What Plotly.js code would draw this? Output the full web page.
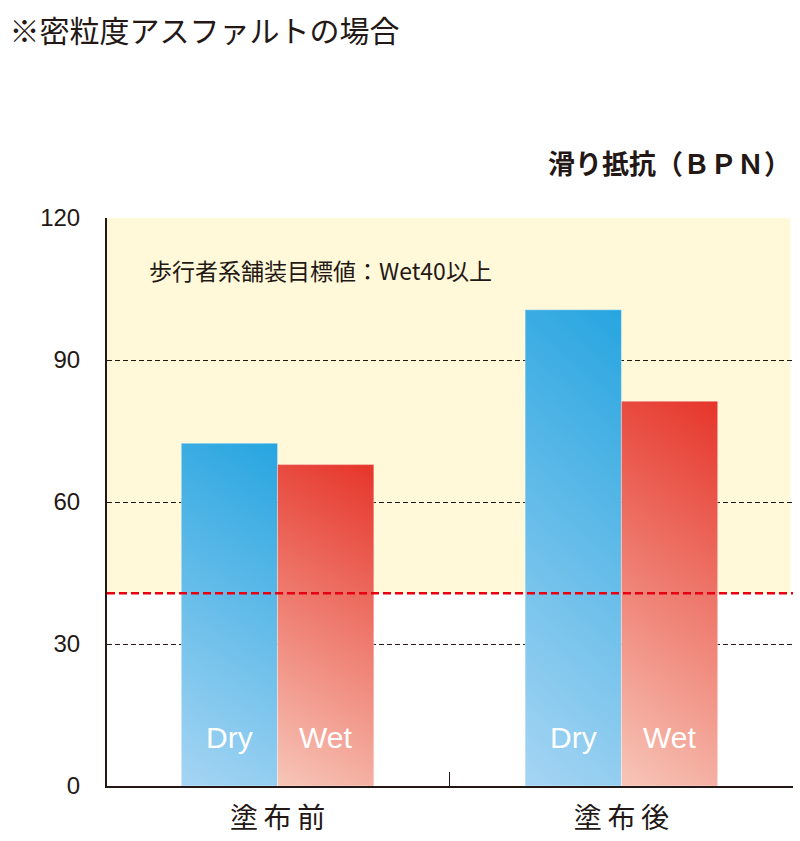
<!DOCTYPE html>
<html>
<head>
<meta charset="utf-8">
<script src="https://cdn.plot.ly/plotly-3.0.1.min.js"></script>
<style>
  html, body { margin: 0; padding: 0; background: #fff; }
  #chart { width: 800px; height: 841px; }
</style>
</head>
<body>
<div id="chart"></div>
<script>
// values
var categories = ['塗布前', '塗布後'];
var seriesNames = ['Dry', 'Wet'];
var dryValues = [72.4, 100.6];
var wetValues = [67.9, 81.3];
var targetWet = 40.7;
var yTicks = [0, 30, 60, 90, 120];

var ink = '#231815';
var jp = '"Noto Sans CJK JP", "Noto Sans", sans-serif';
var latin = '"Liberation Sans", Arial, "Noto Sans CJK JP", sans-serif';

// spread out the category labels a bit like the original lettering
var catText = categories.map(function (c) { return c.split('').join('\u2009'); });

var dry = {
    type: 'bar',
    name: seriesNames[0],
    x: categories,
    y: dryValues,
    width: 0.28,
    marker: { color: '#5bb4e6', line: { width: 1, color: 'rgba(255,255,255,0.35)' } },
    hoverinfo: 'none'
};
var wet = {
    type: 'bar',
    name: seriesNames[1],
    x: categories,
    y: wetValues,
    width: 0.28,
    marker: { color: '#ee7a66', line: { width: 1, color: 'rgba(255,255,255,0.35)' } },
    hoverinfo: 'none'
};

// Dry / Wet labels near the foot of every bar
var barLabels = [];
categories.forEach(function (c) {
    seriesNames.forEach(function (s, i) {
        barLabels.push({
            x: c, xref: 'x', y: 10.3, yref: 'y',
            xshift: i === 0 ? -48 : 48,
            text: s, showarrow: false,
            font: { family: latin, size: 30, color: '#ffffff' }
        });
    });
});

var layout = {
    width: 800,
    height: 841,
    margin: { l: 107, r: 7, t: 218, b: 55 },
    paper_bgcolor: '#ffffff',
    plot_bgcolor: '#ffffff',
    showlegend: false,
    barmode: 'group',
    bargap: 0.44,
    bargroupgap: 0,
    title: {
        text: '※密粒度アスファルトの場合',
        x: 0.012, xanchor: 'left',
        y: 0.975, yanchor: 'top',
        font: { family: jp, size: 30, color: ink }
    },
    xaxis: {
        type: 'category',
        range: [-0.496, 1.499],
        tickvals: categories,
        ticktext: catText,
        tickson: 'boundaries',
        ticks: 'inside',
        ticklen: 14,
        tickwidth: 1.5,
        tickcolor: ink,
        showline: true,
        linecolor: ink,
        linewidth: 2,
        showgrid: false,
        zeroline: false,
        ticklabelstandoff: 6,
        tickfont: { family: jp, size: 28, color: ink }
    },
    yaxis: {
        range: [0, 120],
        tickvals: yTicks,
        ticks: '',
        ticklabelstandoff: 20,
        showline: true,
        linecolor: ink,
        linewidth: 2,
        showgrid: true,
        gridcolor: ink,
        gridwidth: 1,
        griddash: '5px,3px',
        zeroline: false,
        tickfont: { family: latin, size: 24, color: ink }
    },
    shapes: [
        {   // target zone
            type: 'rect', layer: 'below',
            xref: 'paper', x0: 0, x1: 0.996,
            yref: 'y', y0: targetWet, y1: yTicks[yTicks.length - 1],
            fillcolor: '#fff9d9', line: { width: 0 }
        },
        {   // target line, printed over the bars
            type: 'line', layer: 'above',
            xref: 'paper', x0: 0, x1: 1,
            yref: 'y', y0: targetWet, y1: targetWet,
            line: { color: '#e60012', width: 2.5, dash: '8px,4px' }
        }
    ],
    annotations: [
        {
            text: '滑り抵抗（ＢＰＮ）',
            xref: 'paper', x: 1.0, xanchor: 'right',
            yref: 'paper', y: 1.097, yanchor: 'middle',
            showarrow: false,
            font: { family: jp, size: 27, color: ink, weight: 700 }
        },
        {
            text: '歩行者系舗装目標値：Wet40以上',
            xref: 'paper', x: 0.058, xanchor: 'left',
            yref: 'y', y: 109, yanchor: 'middle',
            showarrow: false,
            font: { family: jp, size: 23, color: ink }
        }
    ].concat(barLabels)
};

// diagonal gradients like the printed bars (dark top-right, pale bottom-left)
function addGradients(gd) {
    var svg = gd.querySelector('svg.main-svg');
    var defs = svg.querySelector('defs');
    var ns = 'http://www.w3.org/2000/svg';
    var grads = [
        { id: 'gradDry', from: '#a6d5f3', to: '#27a5e0' },
        { id: 'gradWet', from: '#f7c6b8', to: '#e6352a' }
    ];
    grads.forEach(function (g) {
        var lg = document.createElementNS(ns, 'linearGradient');
        lg.setAttribute('id', g.id);
        lg.setAttribute('x1', '0'); lg.setAttribute('y1', '1');
        lg.setAttribute('x2', '0.2'); lg.setAttribute('y2', '-0.14');
        var s1 = document.createElementNS(ns, 'stop');
        s1.setAttribute('offset', '0'); s1.setAttribute('stop-color', g.from);
        var s2 = document.createElementNS(ns, 'stop');
        s2.setAttribute('offset', '1'); s2.setAttribute('stop-color', g.to);
        lg.appendChild(s1); lg.appendChild(s2);
        defs.appendChild(lg);
    });
    var traces = gd.querySelectorAll('.barlayer .trace.bars');
    traces.forEach(function (t, i) {
        t.querySelectorAll('.point path').forEach(function (p) {
            p.style.fill = 'url(#' + grads[i].id + ')';
        });
    });
}

Plotly.newPlot('chart', [dry, wet], layout, { staticPlot: true, displayModeBar: false })
    .then(addGradients);
</script>
</body>
</html>
